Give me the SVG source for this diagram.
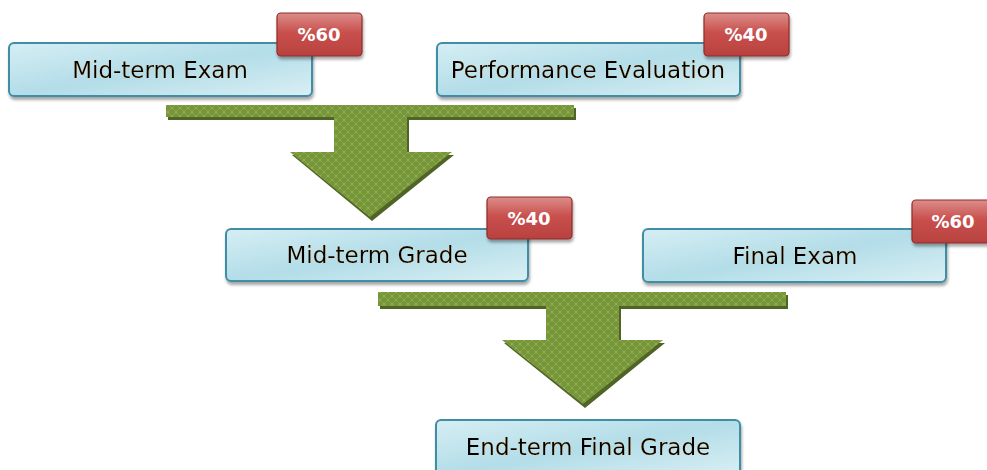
<svg xmlns="http://www.w3.org/2000/svg" width="987" height="470" viewBox="0 0 987 470">
<defs>
<linearGradient id="boxg" x1="0" y1="0" x2="1" y2="1">
<stop offset="0" stop-color="#d6eef4"/>
<stop offset="0.5" stop-color="#b3dde8"/>
<stop offset="1" stop-color="#d9eff4"/>
</linearGradient>
<linearGradient id="badg" x1="0" y1="0" x2="0" y2="1">
<stop offset="0" stop-color="#dc8d8b"/>
<stop offset="0.45" stop-color="#c9504d"/>
<stop offset="1" stop-color="#b8413e"/>
</linearGradient>
<pattern id="hatch" width="8" height="8" patternUnits="userSpaceOnUse">
<rect width="8" height="8" fill="#77963a"/>
<path d="M0,0 L8,8 M8,0 L0,8" stroke="#a6c46a" stroke-width="0.8" stroke-dasharray="1 1"/>
</pattern>
<filter id="sh" x="-10%" y="-10%" width="130%" height="140%">
<feGaussianBlur in="SourceAlpha" stdDeviation="1.5"/>
<feOffset dx="1" dy="3"/>
<feComponentTransfer><feFuncA type="linear" slope="0.35"/></feComponentTransfer>
<feMerge><feMergeNode/><feMergeNode in="SourceGraphic"/></feMerge>
</filter>
<filter id="tg" x="-5%" y="-20%" width="110%" height="140%">
<feMorphology in="SourceAlpha" operator="dilate" radius="0.4" result="d"/>
<feFlood flood-color="#e8a050" flood-opacity="0.45"/>
<feComposite in2="d" operator="in" result="g"/>
<feMerge><feMergeNode in="g"/><feMergeNode in="SourceGraphic"/></feMerge>
</filter>
</defs>
<style>
.box{fill:url(#boxg);stroke:#3f8ea5;stroke-width:2;filter:url(#sh)}
.bad{fill:url(#badg);stroke:#8c2d2a;stroke-width:1.2;filter:url(#sh)}
.lbl{font-family:"DejaVu Sans",Verdana,sans-serif;font-size:23px;fill:#000;text-anchor:middle}
.pct{font-family:"DejaVu Sans",Verdana,sans-serif;font-size:18px;font-weight:bold;fill:#fff;text-anchor:middle}
.arr{fill:url(#hatch)}
.arrs{fill:#4f6426}
</style>
<g id="connectors">
<polygon class="arrs" points="168,108 576,108 576,120 409,120 409,155 454,155 372,221 292,155 336,155 336,120 168,120"/>
<polygon class="arr" points="166,105 574,105 574,117 407,117 407,152 452,152 370,217 290,152 334,152 334,117 166,117"/>
<polygon class="arrs" points="380,295 788,295 788,309 621,309 621,343 665,343 585,408 504,343 548,343 548,309 380,309"/>
<polygon class="arr" points="378,292 786,292 786,306 619,306 619,340 663,340 583,404 502,340 546,340 546,306 378,306"/>
</g>
<g id="midterm-exam">
<rect class="box" x="9" y="43" width="303" height="53" rx="5"/>
<text class="lbl" x="160" y="78" filter="url(#tg)">Mid-term Exam</text>
</g>
<g id="badge-midterm-exam">
<rect class="bad" x="277" y="13" width="85" height="43" rx="4"/>
<text class="pct" x="319" y="41">%60</text>
</g>
<g id="performance-evaluation">
<rect class="box" x="437" y="43" width="303" height="53" rx="5"/>
<text class="lbl" x="588" y="78" filter="url(#tg)">Performance Evaluation</text>
</g>
<g id="badge-performance">
<rect class="bad" x="704" y="13" width="85" height="43" rx="4"/>
<text class="pct" x="746" y="41">%40</text>
</g>
<g id="midterm-grade">
<rect class="box" x="226" y="229" width="302" height="52" rx="5"/>
<text class="lbl" x="377" y="263" filter="url(#tg)">Mid-term Grade</text>
</g>
<g id="badge-midterm-grade">
<rect class="bad" x="487" y="197" width="85" height="42" rx="4"/>
<text class="pct" x="529" y="225">%40</text>
</g>
<g id="final-exam">
<rect class="box" x="643" y="229" width="303" height="53" rx="5"/>
<text class="lbl" x="795" y="264" filter="url(#tg)">Final Exam</text>
</g>
<g id="badge-final-exam">
<rect class="bad" x="912" y="200" width="86" height="43" rx="4"/>
<text class="pct" x="953" y="228">%60</text>
</g>
<g id="endterm-final-grade">
<rect class="box" x="436" y="420" width="304" height="56" rx="5"/>
<text class="lbl" x="588" y="455" filter="url(#tg)">End-term Final Grade</text>
</g>
</svg>
